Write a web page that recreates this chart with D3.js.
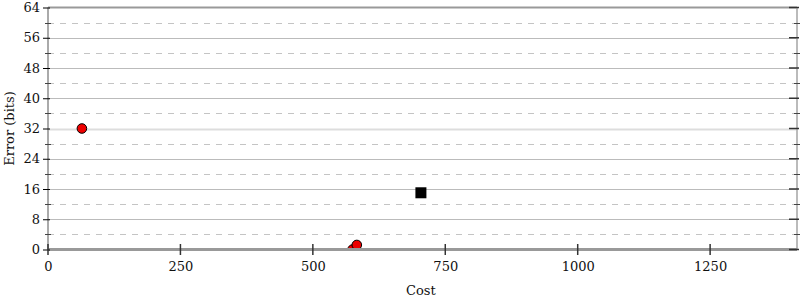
<!DOCTYPE html>
<html><head><meta charset="utf-8">
<script src="https://cdn.jsdelivr.net/npm/d3@7"></script>
<style>body{margin:0;background:#fff}svg{display:block}text{font-family:"DejaVu Serif",serif}</style>
</head><body>
<svg id="c" width="800" height="300"></svg>
<script>
const circlesX = [64, 583, 575];
const circlesY = [32, 1.2, 0];
const squareX = [704];
const squareY = [15];
const xTicks = [0, 250, 500, 750, 1000, 1250];
const yTicks = [0, 8, 16, 24, 32, 40, 48, 56, 64];
const yMinor = [4, 12, 20, 28, 36, 44, 52, 60];

const svg = d3.select("#c");
const L = 48, R = 797, T = 7.5, B = 249.5;
const x = d3.scaleLinear().domain([0, 1414]).range([L, R]);
const y = d3.scaleLinear().domain([0, 64]).range([B, T]);

// grid
svg.append("g").selectAll("line").data(yTicks.filter(d => d > 0 && d < 64)).join("line")
  .attr("x1", L).attr("x2", R).attr("y1", d => Math.round(y(d)) + 0.5).attr("y2", d => Math.round(y(d)) + 0.5)
  .attr("stroke", d => d === 32 ? "#ddd" : "#bbb").attr("stroke-width", d => d === 32 ? 2 : 1);
svg.append("g").selectAll("line").data(yMinor).join("line")
  .attr("x1", L).attr("x2", R).attr("y1", d => Math.round(y(d)) + 0.5).attr("y2", d => Math.round(y(d)) + 0.5)
  .attr("stroke", "#c4c4c4").attr("stroke-dasharray", "6,6");

// frame
svg.append("line").attr("x1", L).attr("x2", R).attr("y1", T).attr("y2", T).attr("stroke", "#999").attr("stroke-width", 2);
svg.append("line").attr("x1", R).attr("x2", R).attr("y1", T).attr("y2", B).attr("stroke", "#bbb").attr("stroke-width", 2);

// data
svg.append("clipPath").attr("id", "pc").append("rect").attr("x", L).attr("y", T).attr("width", R - L).attr("height", B - T);
const pts = circlesX.map((d, i) => ({x: d, y: circlesY[i]}));
svg.append("g").attr("clip-path", "url(#pc)").selectAll("circle").data(pts.slice().reverse()).join("circle")
  .attr("cx", d => x(d.x)).attr("cy", d => y(d.y)).attr("r", 4.8)
  .attr("fill", "#e00").attr("stroke", "#000").attr("stroke-width", 1);
const sq = squareX.map((d, i) => ({x: d, y: squareY[i]}));
svg.append("g").selectAll("rect").data(sq).join("rect")
  .attr("x", d => x(d.x) - 5.5).attr("y", d => y(d.y) - 5.5).attr("width", 11).attr("height", 11).attr("fill", "#000");

// axes lines
svg.append("line").attr("x1", L).attr("x2", L).attr("y1", T).attr("y2", B + 1).attr("stroke", "#aaa").attr("stroke-width", 2);
svg.append("line").attr("x1", L).attr("x2", R).attr("y1", B).attr("y2", B).attr("stroke", "#999").attr("stroke-width", 3);

// y axis left
const yAxis = d3.axisLeft(y).tickValues(yTicks).tickSize(5).tickPadding(3).tickFormat(d3.format("d"));
const gy = svg.append("g").attr("transform", `translate(${L},0)`).call(yAxis);
gy.select(".domain").remove();
gy.selectAll(".tick line").attr("stroke", "#000").attr("x2", -5).attr("x1", 2);
gy.selectAll(".tick text").attr("font-size", 13).attr("font-family", "DejaVu Serif").attr("fill", "#111");
svg.append("g").selectAll("line").data(yMinor).join("line")
  .attr("x1", L - 3).attr("x2", L + 3).attr("y1", d => Math.round(y(d)) + 0.5).attr("y2", d => Math.round(y(d)) + 0.5).attr("stroke", "#444");

// y axis right
svg.append("g").selectAll("line").data(yTicks).join("line")
  .attr("x1", R - 8).attr("x2", R + 2).attr("y1", d => y(d)).attr("y2", d => y(d)).attr("stroke", "#333").attr("stroke-width", 1.5);
svg.append("g").selectAll("line").data(yMinor).join("line")
  .attr("x1", R - 3).attr("x2", R + 3).attr("y1", d => Math.round(y(d)) + 0.5).attr("y2", d => Math.round(y(d)) + 0.5).attr("stroke", "#444");

// x axis
const xAxis = d3.axisBottom(x).tickValues(xTicks).tickSize(0).tickPadding(12).tickFormat(d3.format("d"));
const gx = svg.append("g").attr("transform", `translate(0,${B})`).call(xAxis);
gx.select(".domain").remove();
gx.selectAll(".tick text").attr("font-size", 13).attr("font-family", "DejaVu Serif").attr("fill", "#111");
svg.append("g").selectAll("line").data(xTicks).join("line")
  .attr("x1", d => x(d)).attr("x2", d => x(d)).attr("y1", B - 5.5).attr("y2", B + 5.5).attr("stroke", "#333").attr("stroke-width", 1.5);

// labels
svg.append("text").attr("x", x(704)).attr("y", 295).attr("text-anchor", "middle").attr("font-size", 13).attr("fill", "#111").text("Cost");
svg.append("text").attr("transform", `translate(14,${(T + B) / 2}) rotate(-90)`).attr("text-anchor", "middle").attr("font-size", 13).attr("fill", "#111").text("Error (bits)");
</script>
</body></html>
